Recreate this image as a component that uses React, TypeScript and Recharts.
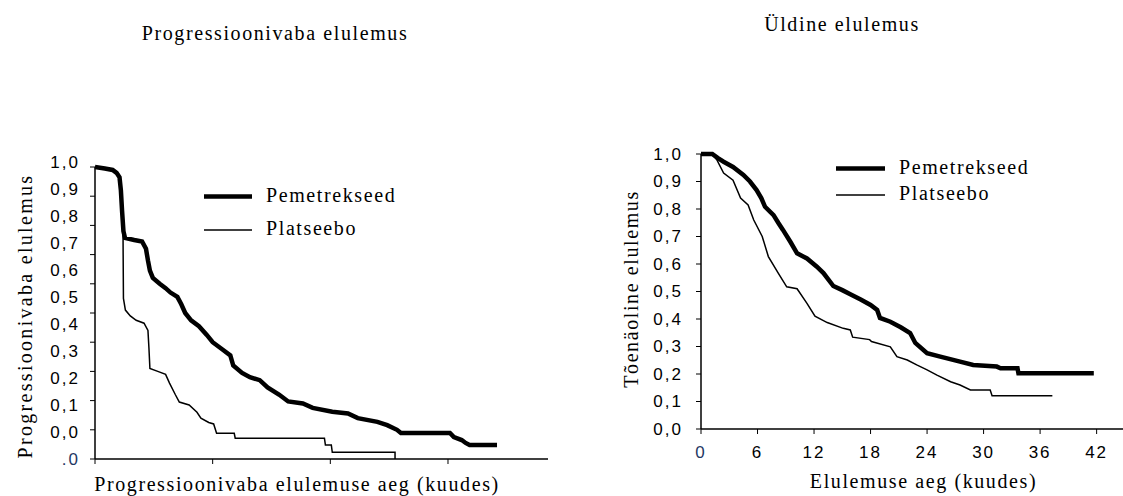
import { LineChart, Line, XAxis, YAxis, Label } from 'recharts';

const SERIF = '"Liberation Serif", "Times New Roman", serif';
const SANS = '"Liberation Sans", Arial, sans-serif';
const NAVY = '#1f3864';

// [kuud, tõenäosus] – loetud pildilt
const pfsPemetrekseed: [number, number][] = [
  [0, 1], [0.5, 0.995], [0.9, 0.99], [1.1, 0.98], [1.25, 0.965], [1.32, 0.92], [1.38, 0.85],
  [1.45, 0.78], [1.53, 0.757], [2.0, 0.75], [2.4, 0.745], [2.6, 0.72], [2.7, 0.68], [2.8, 0.645],
  [2.95, 0.62], [3.3, 0.6], [3.6, 0.585], [3.85, 0.57], [4.2, 0.555], [4.4, 0.53], [4.6, 0.5],
  [4.9, 0.475], [5.3, 0.455], [5.7, 0.425], [6.0, 0.4], [6.5, 0.375], [6.9, 0.355], [7.05, 0.32],
  [7.5, 0.295], [7.9, 0.28], [8.4, 0.27], [8.8, 0.245], [9.4, 0.22], [9.85, 0.197], [10.6, 0.19],
  [11.1, 0.175], [12.1, 0.162], [12.9, 0.156], [13.4, 0.14], [14.4, 0.127], [14.9, 0.116],
  [15.4, 0.1], [15.6, 0.089], [18.1, 0.089], [18.3, 0.075], [18.7, 0.065], [18.9, 0.055],
  [19.1, 0.048], [20.5, 0.048],
];
const pfsPlatseebo: [number, number][] = [
  [0, 1], [0.5, 0.995], [0.9, 0.99], [1.1, 0.98], [1.25, 0.965], [1.38, 0.85], [1.43, 0.76],
  [1.45, 0.55], [1.55, 0.51], [1.8, 0.49], [2.1, 0.475], [2.5, 0.465], [2.7, 0.44], [2.75, 0.38],
  [2.8, 0.31], [3.2, 0.3], [3.6, 0.29], [3.8, 0.26], [4.1, 0.22], [4.3, 0.195], [4.8, 0.185],
  [5.2, 0.16], [5.4, 0.14], [5.8, 0.125], [6.05, 0.12], [6.2, 0.088], [7.1, 0.088], [7.15, 0.071],
  [11.7, 0.071], [11.75, 0.048], [12.05, 0.048], [12.1, 0.023], [15.3, 0.023], [15.3, 0],
];
const osPemetrekseed: [number, number][] = [
  [0, 1], [1.2, 1], [1.8, 0.985], [2.4, 0.972], [3.4, 0.953], [4.5, 0.924], [5.2, 0.9],
  [5.9, 0.869], [6.4, 0.84], [6.8, 0.808], [7.7, 0.778], [8.2, 0.75], [8.7, 0.724], [9.5, 0.68],
  [10.2, 0.639], [11.25, 0.62], [12.3, 0.59], [13.0, 0.567], [14.05, 0.52], [15.0, 0.505],
  [15.85, 0.49], [17.0, 0.47], [18.0, 0.451], [18.7, 0.433], [19.0, 0.404], [20.1, 0.39],
  [21.2, 0.37], [22.2, 0.349], [22.75, 0.313], [24.0, 0.276], [25.4, 0.263], [27.5, 0.245],
  [28.9, 0.233], [31.4, 0.227], [31.8, 0.221], [33.6, 0.221], [33.7, 0.2025], [41.7, 0.2025],
];
const osPlatseebo: [number, number][] = [
  [0, 1], [1.2, 1], [1.7, 0.978], [2.4, 0.931], [3.4, 0.905], [4.2, 0.84], [5.0, 0.815],
  [5.6, 0.76], [6.5, 0.7], [7.15, 0.627], [8.2, 0.567], [9.1, 0.517], [10.2, 0.51],
  [11.25, 0.457], [12.1, 0.41], [13.4, 0.387], [15.1, 0.366], [15.85, 0.36], [16.1, 0.334],
  [17.9, 0.325], [18.1, 0.318], [20.1, 0.299], [20.8, 0.263], [21.9, 0.251], [22.9, 0.233],
  [24.0, 0.215], [25.05, 0.196], [26.5, 0.172], [27.5, 0.16], [28.6, 0.142], [30.7, 0.142],
  [30.9, 0.121], [37.3, 0.121],
];

const survTicks = [0, 0.1, 0.2, 0.3, 0.4, 0.5, 0.6, 0.7, 0.8, 0.9, 1];
const pfsXTicks = [0, 6, 12, 18];
const osXTicks = [0, 6, 12, 18, 24, 30, 36, 42];
// vasaku graafiku 12 silti on tihedamalt kui 11 tikki (nagu originaalis)
const pfsLabelTexts = ['.0', '0,0', '0,1', '0,2', '0,3', '0,4', '0,5', '0,6', '0,7', '0,8', '0,9', '1,0'];
const PFS_LABEL_SPAN = 10.8; // mitu sildivahet mahub telje kõrgusele

const seriesNames = ['Pemetrekseed', 'Platseebo'];
const seriesWidths = [4.5, 1.5];

const toPoints = (arr: [number, number][]) => arr.map(([t, s]) => ({ t, s }));
const comma = (v: number) => v.toFixed(1).replace('.', ',');

const makeTick = (fmt: (v: number) => string, dy: string, navyZero: boolean) =>
  (p: any) => (
    <text
      x={p.x}
      y={p.y}
      dy={dy}
      textAnchor={p.textAnchor}
      fontFamily={SANS}
      fontSize={17}
      letterSpacing={2}
      fill={navyZero && p.payload.value === 0 ? NAVY : '#000'}
    >
      {fmt(p.payload.value)}
    </text>
  );

const titleV = (text: string, cx: number, cy: number, spacing: number) => (
  <text
    x={cx}
    y={cy}
    transform={`rotate(-90 ${cx} ${cy})`}
    textAnchor="middle"
    dominantBaseline="central"
    fontFamily={SERIF}
    fontSize={20}
    letterSpacing={spacing}
    fill="#000"
  >
    {text}
  </text>
);

const hTitle = (text: string, cx: number, baseline: number) => () => (
  <text x={cx} y={baseline} textAnchor="middle" fontFamily={SERIF} fontSize={20} letterSpacing={1.6} fill="#000">
    {text}
  </text>
);

// vasak y-telg: joon, 11 tikki ja 12 (nihkes) silti telje kasti järgi
const pfsYAxisDraw = (props: any) => {
  const vb = props && props.viewBox && props.viewBox.height ? props.viewBox : { x: 0, y: 167, width: 95, height: 292 };
  const axisX = vb.x + vb.width;
  const bottom = vb.y + vb.height;
  const step = vb.height / PFS_LABEL_SPAN;
  return (
    <g>
      <line x1={axisX} x2={axisX} y1={vb.y} y2={bottom} stroke="#000" strokeWidth={1.5} />
      {survTicks.map((v) => (
        <line key={v} x1={axisX - 5} x2={axisX} y1={bottom - v * vb.height} y2={bottom - v * vb.height} stroke="#000" strokeWidth={1} />
      ))}
      {pfsLabelTexts.map((t, i) => (
        <text
          key={t}
          x={axisX - 15}
          y={bottom - i * step}
          dy="0.35em"
          textAnchor="end"
          fontFamily={SANS}
          fontSize={17}
          letterSpacing={2}
          fill={i === 0 ? NAVY : '#000'}
        >
          {t}
        </text>
      ))}
      {titleV('Progressioonivaba elulemus', 25, 316, 2.3)}
    </g>
  );
};

function LegendBlock({ x, y, gap, lineLen }: { x: number; y: number; gap: number; lineLen: number }) {
  return (
    <g>
      {seriesNames.map((name, i) => (
        <g key={name}>
          <line x1={x} x2={x + lineLen} y1={y + i * gap} y2={y + i * gap} stroke="#000" strokeWidth={seriesWidths[i]} />
          <text x={x + lineLen + 14} y={y + i * gap + 5} fontFamily={SERIF} fontSize={20} letterSpacing={1.6} fill="#000">
            {name}
          </text>
        </g>
      ))}
    </g>
  );
}

export default function App() {
  return (
    <div style={{ position: 'absolute', left: 0, top: 0, width: 1123, height: 496, background: '#fff', overflow: 'hidden' }}>
      <div style={{ position: 'absolute', left: 0, top: 0 }}>
        <LineChart width={560} height={496} margin={{ top: 167, right: 12, bottom: 0, left: 0 }}>
          <XAxis
            dataKey="t"
            type="number"
            domain={[0, 23.1]}
            ticks={pfsXTicks}
            tickFormatter={() => ''}
            tickSize={5}
            height={37}
            stroke="#000"
            axisLine={{ stroke: '#000', strokeWidth: 1.5 }}
          >
            <Label content={hTitle('Progressioonivaba elulemuse aeg (kuudes)', 297, 491)} />
          </XAxis>
          <YAxis
            type="number"
            domain={[0, 1]}
            ticks={survTicks}
            tick={false}
            tickLine={false}
            axisLine={false}
            width={95}
          >
            <Label content={pfsYAxisDraw} />
          </YAxis>
          <Line
            data={toPoints(pfsPlatseebo)}
            dataKey="s"
            type="linear"
            stroke="#000"
            strokeWidth={1.5}
            dot={false}
            isAnimationActive={false}
          />
          <Line
            data={toPoints(pfsPemetrekseed)}
            dataKey="s"
            type="linear"
            stroke="#000"
            strokeWidth={4.5}
            dot={false}
            isAnimationActive={false}
          />
        </LineChart>
      </div>

      <div style={{ position: 'absolute', left: 560, top: 0 }}>
        <LineChart width={563} height={496} margin={{ top: 154, right: 0, bottom: 0, left: 0 }}>
          <XAxis
            dataKey="t"
            type="number"
            domain={[0, 44.8]}
            ticks={osXTicks}
            tick={makeTick((v) => String(v), '0.71em', true)}
            tickSize={5}
            tickMargin={12}
            height={67}
            stroke="#000"
            axisLine={{ stroke: '#000', strokeWidth: 1.5 }}
          >
            <Label content={hTitle('Elulemuse aeg (kuudes)', 923.5 - 560, 488)} />
          </XAxis>
          <YAxis
            type="number"
            domain={[0, 1]}
            ticks={survTicks}
            tick={makeTick((v) => comma(v), '0.35em', false)}
            tickSize={5}
            tickMargin={13}
            width={141}
            stroke="#000"
            axisLine={{ stroke: '#000', strokeWidth: 1.5 }}
          >
            <Label content={() => titleV('Tõenäoline elulemus', 631 - 560, 289, 1.6)} />
          </YAxis>
          <Line
            data={toPoints(osPlatseebo)}
            dataKey="s"
            type="linear"
            stroke="#000"
            strokeWidth={1.5}
            dot={false}
            isAnimationActive={false}
          />
          <Line
            data={toPoints(osPemetrekseed)}
            dataKey="s"
            type="linear"
            stroke="#000"
            strokeWidth={4.5}
            dot={false}
            isAnimationActive={false}
          />
        </LineChart>
      </div>

      <svg width={1123} height={496} style={{ position: 'absolute', left: 0, top: 0, pointerEvents: 'none' }}>
        <text x={275} y={40} textAnchor="middle" fontFamily={SERIF} fontSize={20} letterSpacing={1.6} fill="#000">
          Progressioonivaba elulemus
        </text>
        <text x={842} y={31} textAnchor="middle" fontFamily={SERIF} fontSize={20} letterSpacing={1.6} fill="#000">
          Üldine elulemus
        </text>
        <LegendBlock x={204} y={196.5} gap={33.5} lineLen={48} />
        <LegendBlock x={836} y={168.5} gap={26.5} lineLen={49} />
      </svg>
    </div>
  );
}
